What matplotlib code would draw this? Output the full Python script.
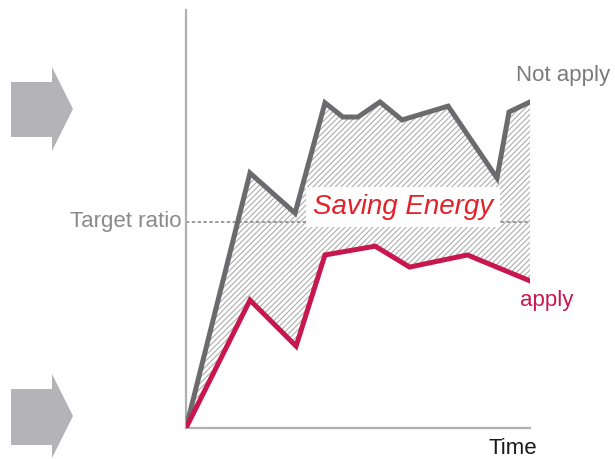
import matplotlib
matplotlib.use("Agg")
import matplotlib.pyplot as plt
from matplotlib.patches import Polygon
import numpy as np

# Energy ratio over time, with and without the saving measure
not_apply_t = [0, 1.86, 3.17, 4.04, 4.56, 5.0, 5.64, 6.28, 7.62, 9.04, 9.39, 10]
not_apply_v = [0, 61.0, 51.4, 77.8, 74.4, 74.4, 78.0, 73.7, 77.0, 59.8, 75.6, 78.0]

apply_t = [0, 1.86, 3.2, 4.04, 5.5, 6.5, 8.18, 10]
apply_v = [0, 30.6, 19.6, 41.4, 43.5, 38.5, 41.4, 35.2]

target_ratio = 49.3

plt.rcParams['font.family'] = ['Liberation Sans', 'DejaVu Sans']
plt.rcParams['hatch.linewidth'] = 0.8

fig = plt.figure(figsize=(6.15, 4.59), dpi=100)
ax = fig.add_axes([186 / 615, 31 / 459, 344 / 615, 418 / 459])
ax.set_xlim(0, 10)
ax.set_ylim(0, 100)

for s in ['top', 'right']:
    ax.spines[s].set_visible(False)
for s in ['left', 'bottom']:
    ax.spines[s].set_color('#b0b0b0')
    ax.spines[s].set_linewidth(1.6)
ax.set_xticks([])
ax.set_yticks([])

# hatched gap between the two curves
gap_x = np.concatenate([not_apply_t, apply_t[::-1]])
gap_y = np.concatenate([not_apply_v, apply_v[::-1]])
ax.fill(gap_x, gap_y, facecolor='none', edgecolor='#adadad', linewidth=0,
        hatch='//////', zorder=1)

ax.plot([0, 10], [target_ratio, target_ratio], color='#8a8a8a', lw=1.2,
        ls=(0, (2, 1.5)), zorder=2)

ax.plot(not_apply_t, not_apply_v, color='#6b6b6d', lw=3.6, solid_joinstyle='miter', zorder=3)
ax.plot(apply_t, apply_v, color='#c8174f', lw=3.6, solid_joinstyle='miter', zorder=3)

ax.text(6.31, 52.9, 'Saving Energy', color='#e3202a', fontsize=20, style='italic',
        ha='center', va='center', zorder=4,
        bbox=dict(facecolor='white', edgecolor='none', pad=5))

ax.text(-0.12, target_ratio, 'Target ratio', color='#8a8a8a', fontsize=16,
        ha='right', va='center', clip_on=False)
ax.text(9.59, 84.4, 'Not apply', color='#7a7a7a', fontsize=16,
        ha='left', va='center', clip_on=False)
ax.text(9.71, 30.6, 'apply', color='#c8174f', fontsize=16,
        ha='left', va='center', clip_on=False)
ax.text(8.78, -4.8, 'Time', color='#1a1a1a', fontsize=16,
        ha='left', va='center', clip_on=False)

# decorative arrows on the left
def arrow(y_top, y_bot, y_body_top, y_body_bot):
    pts = [(11, y_body_top), (52, y_body_top), (52, y_top), (73, (y_top + y_bot) / 2),
           (52, y_bot), (52, y_body_bot), (11, y_body_bot)]
    pts = [(x / 615, 1 - y / 459) for x, y in pts]
    fig.patches.append(Polygon(pts, closed=True, transform=fig.transFigure,
                               facecolor='#b4b4b8', edgecolor='none'))

arrow(67, 151, 82, 137)
arrow(374, 458, 389, 445)

fig.savefig('out.png', dpi=100)
